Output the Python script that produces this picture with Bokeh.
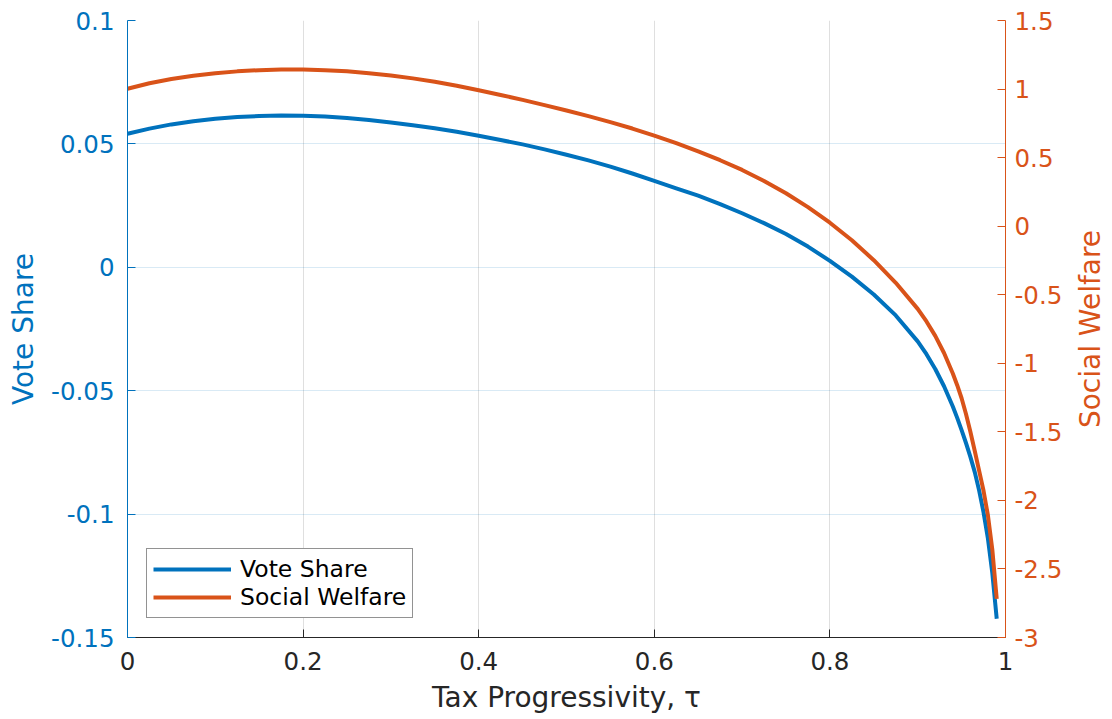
import math
from bokeh.plotting import figure
from bokeh.layouts import row
from bokeh.models import (Range1d, LinearAxis, FixedTicker, CustomJSTickFormatter,
                          Legend, LegendItem)
from bokeh.embed import file_html
from bokeh.resources import INLINE

# ---- data ----
tau = [0.0, 0.025, 0.05, 0.075, 0.1, 0.125, 0.15, 0.175, 0.2, 0.225, 0.25,
       0.275, 0.3, 0.325, 0.35, 0.375, 0.4, 0.425, 0.45, 0.475, 0.5, 0.525,
       0.55, 0.575, 0.6, 0.625, 0.65, 0.675, 0.7, 0.725, 0.75, 0.775, 0.8,
       0.825, 0.85, 0.875, 0.9, 0.91, 0.92, 0.93, 0.94, 0.945, 0.95, 0.955,
       0.96, 0.965, 0.97, 0.975, 0.98, 0.985, 0.99]
vote_share = [0.0541, 0.0562, 0.0579, 0.0592, 0.0602, 0.0609, 0.0613, 0.0615,
              0.0614, 0.0611, 0.0605, 0.0597, 0.0587, 0.0576, 0.0563, 0.0549,
              0.0533, 0.0516, 0.0498, 0.0478, 0.0456, 0.0433, 0.0408, 0.0380,
              0.0350, 0.0320, 0.0290, 0.0256, 0.0219, 0.0179, 0.0135, 0.0084,
              0.0026, -0.0038, -0.0110, -0.0195, -0.0300, -0.0352, -0.0412,
              -0.0482, -0.0564, -0.0610, -0.0660, -0.0712, -0.0768, -0.0830,
              -0.0905, -0.0993, -0.1100, -0.1240, -0.1424]
social_welfare = [1.002, 1.042, 1.073, 1.097, 1.115, 1.129, 1.138, 1.143,
                  1.143, 1.138, 1.129, 1.116, 1.099, 1.078, 1.053, 1.024,
                  0.991, 0.957, 0.921, 0.883, 0.844, 0.803, 0.759, 0.712,
                  0.661, 0.606, 0.546, 0.481, 0.410, 0.330, 0.240, 0.139,
                  0.025, -0.103, -0.248, -0.413, -0.603, -0.695, -0.800,
                  -0.925, -1.075, -1.160, -1.255, -1.370, -1.500, -1.640,
                  -1.785, -1.930, -2.110, -2.360, -2.718]
x_ticks = [0, 0.2, 0.4, 0.6, 0.8, 1]
left_ticks = [-0.15, -0.1, -0.05, 0, 0.05, 0.1]
right_ticks = [-3, -2.5, -2, -1.5, -1, -0.5, 0, 0.5, 1, 1.5]
x_title = "Tax Progressivity, τ"
left_title = "Vote Share"
right_title = "Social Welfare"

BLUE = "#0072BD"
ORANGE = "#D95319"
DARK = "#262626"
FONT = "DejaVu Sans"
TICK_FS = "24.5px"
LABEL_FS = "28px"
FRAME_W, FRAME_H = 878, 617

fmt_code = """
var s = tick.toFixed(2);
if (s.indexOf('.') >= 0) { s = s.replace(/0+$/, '').replace(/\\.$/, ''); }
if (s === '-0') { s = '0'; }
return s;
"""

p = figure(frame_width=FRAME_W, frame_height=FRAME_H,
           x_range=Range1d(0, 1), y_range=Range1d(-0.15, 0.1),
           output_backend="svg", toolbar_location=None,
           min_border_left=127, min_border_right=65,
           min_border_top=20, min_border_bottom=80)
p.outline_line_color = None
p.background_fill_color = "white"
p.border_fill_color = "white"

p.extra_y_ranges = {"sw": Range1d(-3, 1.5)}

# x axis
xa = p.xaxis[0]
xa.ticker = FixedTicker(ticks=x_ticks)
xa.formatter = CustomJSTickFormatter(code=fmt_code)
xa.axis_label = x_title
xa.axis_line_color = DARK
xa.major_tick_line_color = DARK
xa.major_tick_in = 8
xa.major_tick_out = 0
xa.minor_tick_line_color = None
xa.major_label_text_color = DARK
xa.major_label_text_font = FONT
xa.major_label_text_font_size = TICK_FS
xa.major_label_standoff = 14
xa.axis_label_text_color = DARK
xa.axis_label_text_font = FONT
xa.axis_label_text_font_size = LABEL_FS
xa.axis_label_text_font_style = "normal"
xa.axis_label_standoff = 8

# left axis
ya = p.yaxis[0]
ya.ticker = FixedTicker(ticks=left_ticks)
ya.formatter = CustomJSTickFormatter(code=fmt_code)
ya.axis_label = left_title
ya.axis_line_color = BLUE
ya.major_tick_line_color = BLUE
ya.major_tick_in = 8
ya.major_tick_out = 0
ya.minor_tick_line_color = None
ya.major_label_text_color = BLUE
ya.major_label_text_font = FONT
ya.major_label_text_font_size = TICK_FS
ya.major_label_standoff = 13
ya.axis_label_text_color = BLUE
ya.axis_label_text_font = FONT
ya.axis_label_text_font_size = LABEL_FS
ya.axis_label_text_font_style = "normal"
ya.axis_label_standoff = 8

# right axis (ticks + labels); its title is drawn in a narrow side panel
ra = LinearAxis(y_range_name="sw")
ra.ticker = FixedTicker(ticks=right_ticks)
ra.formatter = CustomJSTickFormatter(code=fmt_code)
ra.axis_line_color = ORANGE
ra.major_tick_line_color = ORANGE
ra.major_tick_in = 8
ra.major_tick_out = 0
ra.minor_tick_line_color = None
ra.major_label_text_color = ORANGE
ra.major_label_text_font = FONT
ra.major_label_text_font_size = TICK_FS
ra.major_label_standoff = 9
p.add_layout(ra, "right")

# grids
p.xgrid.ticker = FixedTicker(ticks=x_ticks)
p.xgrid.grid_line_color = DARK
p.xgrid.grid_line_alpha = 0.15
p.ygrid.ticker = FixedTicker(ticks=left_ticks)
p.ygrid.grid_line_color = BLUE
p.ygrid.grid_line_alpha = 0.15

r1 = p.line(tau, vote_share, line_color=BLUE, line_width=4,
            line_join="round", line_cap="butt")
r2 = p.line(tau, social_welfare, line_color=ORANGE, line_width=4,
            y_range_name="sw", line_join="round", line_cap="butt")

legend = Legend(items=[LegendItem(label="Vote Share", renderers=[r1]),
                       LegendItem(label="Social Welfare", renderers=[r2])],
                location=(19, 19))
legend.margin = 0
legend.padding = 6
legend.spacing = 0
legend.glyph_width = 78
legend.glyph_height = 28
legend.label_height = 28
legend.label_standoff = 9
legend.label_text_font = FONT
legend.label_text_font_size = "23.5px"
legend.label_text_color = "black"
legend.border_line_color = DARK
legend.border_line_width = 1
legend.background_fill_color = "white"
legend.background_fill_alpha = 1
p.add_layout(legend, "center")

# narrow companion panel that carries the right-hand title, reading upwards
p2 = figure(frame_width=1, frame_height=FRAME_H,
            x_range=Range1d(0, 1), y_range=Range1d(-3, 1.5),
            output_backend="svg", toolbar_location=None,
            min_border_left=36, min_border_right=0,
            min_border_top=20, min_border_bottom=80)
p2.outline_line_color = None
p2.background_fill_color = "white"
p2.border_fill_color = "white"
p2.xaxis.visible = False
p2.xgrid.visible = False
p2.ygrid.visible = False
t_ax = p2.yaxis[0]
t_ax.ticker = FixedTicker(ticks=[])
t_ax.axis_line_color = None
t_ax.major_tick_line_color = None
t_ax.minor_tick_line_color = None
t_ax.major_label_text_font_size = "0px"
t_ax.axis_label = right_title
t_ax.axis_label_text_color = ORANGE
t_ax.axis_label_text_font = FONT
t_ax.axis_label_text_font_size = LABEL_FS
t_ax.axis_label_text_font_style = "normal"
t_ax.axis_label_standoff = 0

layout = row(p, p2)
open("out.html", "w").write(file_html(layout, INLINE))
